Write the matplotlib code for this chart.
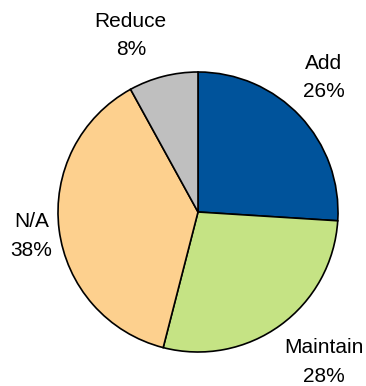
import matplotlib.pyplot as plt

categories = ['Add', 'Maintain', 'N/A', 'Reduce']
shares = [26, 28, 38, 8]
colors = ['#00539B', '#C5E384', '#FDD08E', '#BFBFBF']
# label anchors (data units, pie radius = 1)
label_pos = [(0.90, 0.96), (0.90, -1.07), (-1.19, -0.17), (-0.48, 1.26)]

plt.rcParams['font.family'] = ['Liberation Sans', 'DejaVu Sans']

fig = plt.figure(figsize=(3.66, 3.86), dpi=100)
ax = fig.add_axes([58 / 366, 34 / 386, 280 / 366, 280 / 386])
ax.pie(shares, colors=colors, startangle=90, counterclock=False,
       radius=1, wedgeprops=dict(edgecolor='black', linewidth=1.2))
ax.set_xlim(-1, 1)
ax.set_ylim(-1, 1)
ax.set_aspect('equal')
ax.axis('off')

for cat, val, (x, y) in zip(categories, shares, label_pos):
    ax.text(x, y, f'{cat}\n{val}%', ha='center', va='center', fontsize=15,
            linespacing=1.65, clip_on=False)

fig.savefig('out.png', dpi=100)
